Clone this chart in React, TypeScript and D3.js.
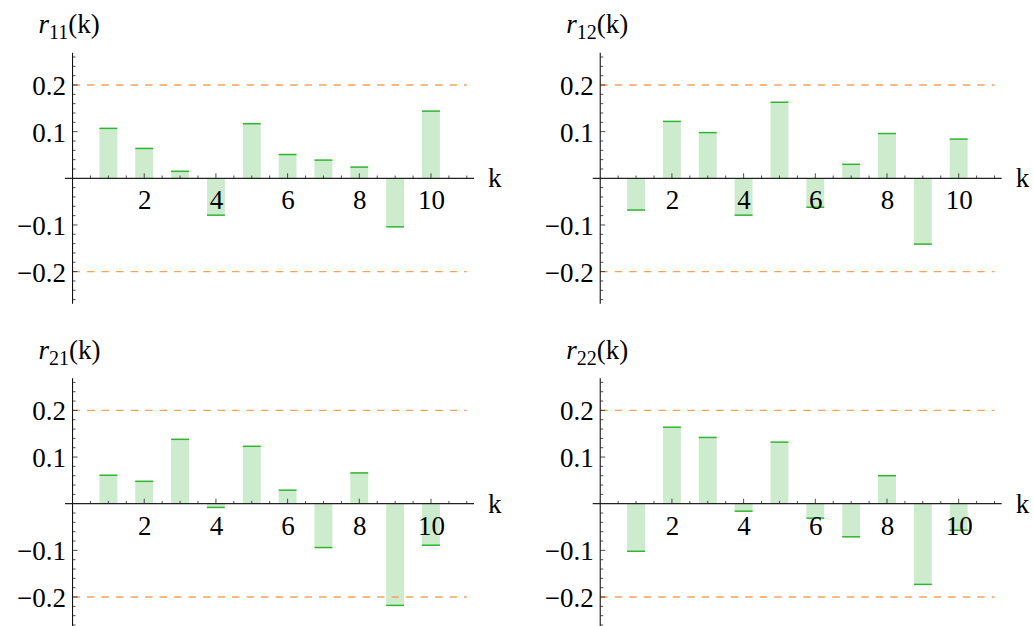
import React from "react";
import * as d3 from "d3";

// Sample cross-correlations r_ij(k) for lags k = 1..10
const lags = [1, 2, 3, 4, 5, 6, 7, 8, 9, 10];
const r11 = [0.107, 0.064, 0.015, -0.079, 0.117, 0.051, 0.039, 0.024, -0.104, 0.144];
const r12 = [-0.068, 0.122, 0.098, -0.079, 0.163, -0.062, 0.03, 0.096, -0.141, 0.084];
const r21 = [0.061, 0.048, 0.138, -0.008, 0.123, 0.029, -0.094, 0.066, -0.218, -0.089];
const r22 = [-0.102, 0.164, 0.142, -0.016, 0.132, -0.031, -0.071, 0.06, -0.173, -0.057];

// Confidence band drawn as dashed lines
const bandLevels = [0.2, -0.2];

// Axis ticks
const yLabelTicks = [-0.2, -0.1, 0.1, 0.2];
const xLabelTicks = [2, 4, 6, 8, 10];

const panels = [
  { sub: "11", values: r11, col: 0, row: 0 },
  { sub: "12", values: r12, col: 1, row: 0 },
  { sub: "21", values: r21, col: 0, row: 1 },
  { sub: "22", values: r22, col: 1, row: 1 },
];

const FILL = "#cdeccd";
const EDGE = "#2fb52f";
const BAND = "#f7a35c";

const css = `
  .acf text, .acf tspan { font-family: "Liberation Serif", "Times New Roman", serif; }
  .acf .tick { font-size: 27px; }
  .acf .ttl { font-size: 27px; }
  .acf .sub { font-size: 20px; }
  .acf .it { font-style: italic; }
`;

function fmt(v: number) {
  const s = Math.abs(v).toFixed(1);
  return v < 0 ? "\u2212" + s : s;
}

function Panel({ sub, values, ox, oy }: { sub: string; values: number[]; ox: number; oy: number }) {
  const x = d3.scaleLinear().domain([-0.21, 11.2]).range([ox + 65, ox + 474]);
  const y = d3.scaleLinear().domain([-0.269, 0.269]).range([oy + 303.8, oy + 52.8]);
  const x0 = x(0);
  const y0 = y(0);

  const yMinor = d3.range(-13, 14).filter((i) => i !== 0).map((i) => i * 0.02);
  const yMajor = [-0.2, -0.1, 0.1, 0.2];
  const xMinor = d3.range(1, 23).map((i) => i * 0.5).filter((v) => v % 2 !== 0);
  const halfW = 0.25;

  return (
    <g>
      {/* bars */}
      {values.map((v, i) => {
        const k = lags[i];
        const xa = x(k - halfW);
        const xb = x(k + halfW);
        const yv = y(v);
        return (
          <g key={k}>
            <rect x={xa} width={xb - xa} y={Math.min(yv, y0)} height={Math.abs(yv - y0)} fill={FILL} />
            <line x1={xa} x2={xb} y1={yv} y2={yv} stroke={EDGE} strokeWidth={1.5} />
          </g>
        );
      })}
      {/* dashed bands */}
      {bandLevels.map((b) => (
        <line
          key={b}
          x1={x(0)}
          x2={x(11)}
          y1={y(b)}
          y2={y(b)}
          stroke={BAND}
          strokeWidth={1.3}
          strokeDasharray="7.5 7"
        />
      ))}
      {/* axes */}
      <line x1={x(-0.21)} x2={x(11.2)} y1={y0} y2={y0} stroke="#222" strokeWidth={1.2} />
      <line x1={x0} x2={x0} y1={y(0.269)} y2={y(-0.269)} stroke="#111" strokeWidth={1.1} />
      {yMinor.map((t) => {
        const major = yMajor.some((m) => Math.abs(m - t) < 1e-9);
        return (
          <line key={"y" + t} x1={x0} x2={x0 + (major ? 5 : 3)} y1={y(t)} y2={y(t)} stroke="#222" strokeWidth={0.8} />
        );
      })}
      {xMinor.map((t) => (
        <line key={"xm" + t} x1={x(t)} x2={x(t)} y1={y0} y2={y0 - 2.8} stroke="#222" strokeWidth={0.8} />
      ))}
      {xLabelTicks.map((t) => (
        <line key={"xM" + t} x1={x(t)} x2={x(t)} y1={y0} y2={y0 - 5} stroke="#222" strokeWidth={0.8} />
      ))}
      {/* tick labels */}
      {yLabelTicks.map((t) => (
        <text key={"yl" + t} className="tick" x={x0 - 6.5} y={y(t) + 10} textAnchor="end" fill="#000">
          {fmt(t)}
        </text>
      ))}
      {xLabelTicks.map((t) => (
        <text key={"xl" + t} className="tick" x={x(t) + 0.5} y={y0 + 31} textAnchor="middle" fill="#000">
          {String(t)}
        </text>
      ))}
      {/* axis labels */}
      <text className="tick" x={x(11.2) + 14} y={y0 + 9} fill="#000">
        k
      </text>
      <text className="ttl" x={x0 - 34} y={y0 - 145} fill="#000">
        <tspan className="it">r</tspan>
        <tspan className="sub" dy={6}>
          {sub}
        </tspan>
        <tspan dy={-6}>(k)</tspan>
      </text>
    </g>
  );
}

export default function App() {
  return (
    <svg
      className="acf"
      width={1033}
      height={626}
      viewBox="0 0 1033 626"
      style={{ position: "absolute", left: 0, top: 0, background: "#fff" }}
    >
      <style>{css}</style>
      <rect width={1033} height={626} fill="#fff" />
      {panels.map((p) => (
        <Panel key={p.sub} sub={p.sub} values={p.values} ox={p.col * 527.7} oy={p.row * 325.4} />
      ))}
    </svg>
  );
}
